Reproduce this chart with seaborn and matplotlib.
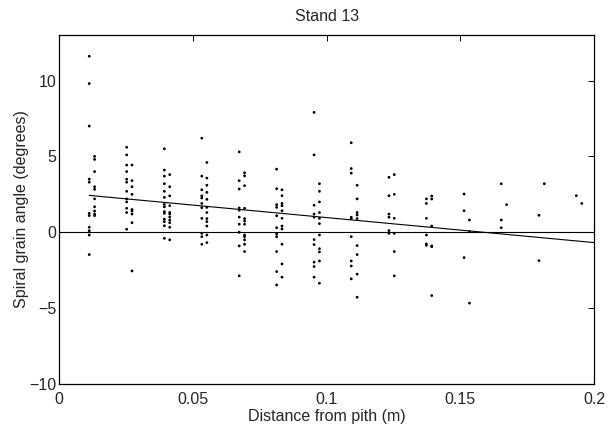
import numpy as np
import pandas as pd
import matplotlib
matplotlib.use("Agg")
import matplotlib.pyplot as plt
import seaborn as sns

# ---- data ----
col_x = [0.0112, 0.0132, 0.0252, 0.0272, 0.0393, 0.0413, 0.0533, 0.0552,
         0.0673, 0.0693, 0.0813, 0.0833, 0.0953, 0.0973, 0.1092, 0.1114,
         0.1233, 0.1253, 0.1373, 0.1393, 0.1514, 0.1534, 0.1653, 0.1673,
         0.1794, 0.1814, 0.1934, 0.1954]
col_y = [
    [11.6, 9.8, 7.0, 3.5, 3.3, 1.25, 1.1, 0.33, 0.1, -0.18, -1.47],
    [5.0, 4.8, 4.0, 3.0, 2.83, 2.2, 1.68, 1.4, 1.2, 1.1],
    [5.6, 5.1, 4.43, 4.0, 3.5, 3.3, 2.7, 2.2, 2.0, 1.58, 1.3, 0.2],
    [4.43, 3.4, 3.0, 2.5, 1.5, 1.4, 1.2, 0.63, -2.55],
    [5.5, 4.1, 3.7, 3.2, 2.7, 2.3, 1.84, 1.68, 1.36, 1.25, 0.86, 0.7, 0.43, -0.4],
    [3.8, 3.0, 2.4, 1.75, 1.3, 1.2, 1.0, 0.8, 0.63, 0.33, -0.5],
    [6.2, 3.7, 2.8, 2.4, 2.26, 1.9, 1.62, 0.92, -0.07, -0.29, -0.79],
    [4.6, 3.57, 3.1, 2.63, 2.17, 1.64, 1.3, 0.9, 0.7, 0.41, -0.18, -0.68],
    [5.3, 3.4, 2.85, 1.6, 1.45, 1.0, 0.53, 0.0, -0.9, -2.87],
    [3.92, 3.72, 3.07, 1.58, 0.9, 0.74, 0.53, -0.18, -0.29, -0.5, -0.79, -1.27],
    [4.16, 2.87, 1.82, 1.64, 1.09, 0.3, -0.11, -0.29, -1.27, -2.59, -3.47],
    [2.8, 2.41, 1.9, 1.75, 1.42, 0.92, 0.41, 0.22, -0.79, -2.09, -2.96],
    [7.9, 5.1, 1.78, 1.2, 0.99, -0.48, -0.81, -1.97, -2.26, -2.96],
    [3.2, 2.7, 2.0, 1.3, 0.92, 0.57, -0.18, -1.08, -1.3, -1.89, -3.36],
    [5.9, 4.2, 3.9, 0.99, 0.9, -0.29, -1.89, -2.22, -3.07],
    [3.1, 2.2, 1.3, 1.14, 0.9, -0.88, -1.47, -2.76, -4.28],
    [3.62, 2.41, 1.2, 0.99, 0.11, -0.07],
    [3.8, 2.5, 0.92, -0.07, -1.27, -2.87],
    [2.2, 1.9, 0.92, -0.18, -0.77, -0.86],
    [2.39, 2.19, 0.41, -0.9, -0.95, -4.17],
    [2.52, 1.42, -1.67],
    [0.81, 0.04, -4.67],
    [3.2, 0.81, 0.3],
    [1.82],
    [1.12, -1.87],
    [3.2],
    [2.41],
    [1.9],
]
fit_x = [0.0112, 0.2]
fit_y = [2.43, -0.68]

x_ticks = [0, 0.05, 0.1, 0.15, 0.2]
x_tick_labels = ["0", "0.05", "0.1", "0.15", "0.2"]
y_ticks = [-10, -5, 0, 5, 10]
y_tick_labels = ["\u221210", "\u22125", "0", "5", "10"]

title = "Stand 13"
x_label = "Distance from pith (m)"
y_label = "Spiral grain angle (degrees)"

# ---- build table ----
rows = []
for cx, ys in zip(col_x, col_y):
    for yv in ys:
        rows.append((cx, yv))
df = pd.DataFrame(rows, columns=["x", "y"])
fit_df = pd.DataFrame({"x": fit_x, "y": fit_y})

sns.set_style("white")
plt.rcParams["font.family"] = ["Liberation Sans", "DejaVu Sans"]

FS = 11.5
fig = plt.figure(figsize=(6.08, 4.28), dpi=100)
ax = fig.add_axes([0.0975, 0.1028, 0.8795, 0.8154])

ax.axhline(0, color="black", linewidth=0.8, zorder=1)
sns.lineplot(data=fit_df, x="x", y="y", ax=ax, color="black",
             linewidth=0.8, zorder=2)
sns.scatterplot(data=df, x="x", y="y", ax=ax, color="black", s=4,
                marker="o", edgecolor="none", linewidth=0, zorder=3)

ax.set_xlim(0, 0.2)
ax.set_ylim(-10, 13)
ax.set_xticks(x_ticks)
ax.set_xticklabels(x_tick_labels)
ax.set_yticks(y_ticks)
ax.set_yticklabels(y_tick_labels)
ax.tick_params(direction="in", top=True, right=True, length=4, width=0.7,
               labelsize=FS, color="black")
ax.tick_params(axis="x", pad=6)
ax.tick_params(axis="y", pad=2)
for sp in ax.spines.values():
    sp.set_visible(True)
    sp.set_color("black")
    sp.set_linewidth(0.9)

ax.set_xlabel(x_label, fontsize=FS, labelpad=1.5)
ax.set_ylabel(y_label, fontsize=FS, labelpad=0)
ax.set_title(title, fontsize=FS, pad=10)

fig.savefig("out.png", dpi=100)
